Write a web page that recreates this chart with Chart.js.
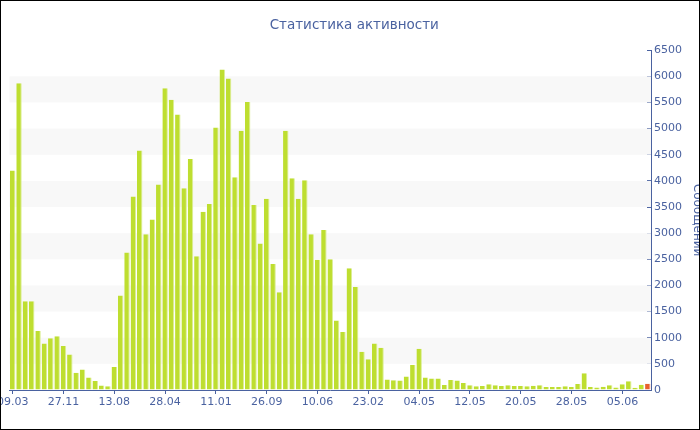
<!DOCTYPE html>
<html>
<head>
<meta charset="utf-8">
<script src="https://cdn.jsdelivr.net/npm/chart.js@4/dist/chart.umd.min.js"></script>
<style>
  html, body { margin: 0; padding: 0; background: #fff; }
  #frame { width: 700px; height: 430px; box-sizing: border-box; border: 1px solid #000; overflow: hidden; }
  canvas { display: block; }
</style>
</head>
<body>
<div id="frame"><canvas id="chart" width="698" height="428"></canvas></div>
<script>
// labels shown on the x axis, one every 8 bars
const tickLabels = ["09.03", "27.11", "13.08", "28.04", "11.01", "26.09", "10.06",
                    "23.02", "04.05", "12.05", "20.05", "28.05", "05.06"];

// messages per period
const messages = [
    4200, 5870, 1700, 1700, 1130, 890, 990, 1030, 840, 680,
    330, 390, 240, 170, 85, 70, 440, 1810, 2630, 3700,
    4580, 2980, 3260, 3930, 5770, 5550, 5270, 3860, 4420, 2560,
    3410, 3560, 5020, 6130, 5960, 4070, 4960, 5510, 3540, 2800,
    3660, 2410, 1870, 4960, 4050, 3660, 4010, 2980, 2490, 3060,
    2500, 1330, 1110, 2330, 1970, 730, 590, 890, 810, 200,
    185, 180, 260, 480, 790, 240, 220, 220, 95, 190,
    180, 135, 90, 70, 75, 110, 90, 75, 90, 75,
    75, 70, 80, 90, 55, 55, 55, 70, 55, 115,
    320, 55, 50, 60, 90, 50, 110, 165, 45, 100,
    120
];

const labels = messages.map((v, i) => i % 8 === 0 ? tickLabels[i / 8] : "");

const blue = "#4a62a0";
const green = "#bede30";
const red = "#e8602c";
const last = messages.length - 1;

// light gray stripes between every other pair of 500-steps
const bands = {
    id: "bands",
    beforeDatasetsDraw(chart) {
        const { ctx, chartArea, scales } = chart;
        const y = scales.y;
        ctx.save();
        ctx.fillStyle = "#f8f8f8";
        for (let v = 500; v < y.max; v += 1000) {
            const top = y.getPixelForValue(v + 500);
            const bottom = y.getPixelForValue(v);
            ctx.fillRect(chartArea.left, top, chartArea.right - chartArea.left, bottom - top);
        }
        ctx.restore();
    }
};

new Chart(document.getElementById("chart"), {
    type: "bar",
    data: {
        labels: labels,
        datasets: [{
            label: "Сообщений",
            data: messages,
            backgroundColor: c => c.dataIndex === last ? red : green,
            borderColor: c => c.dataIndex === last ? "#f2b29a" : "#dcee96",
            borderWidth: { top: 0, left: 0, bottom: 0, right: 1 },
            borderSkipped: false,
            barPercentage: 0.86,
            categoryPercentage: 1
        }]
    },
    options: {
        responsive: false,
        animation: false,
        devicePixelRatio: 1,
        layout: { padding: { left: 8.5, right: 0, top: 0, bottom: 0 } },
        plugins: {
            legend: { display: false },
            tooltip: { enabled: false },
            title: {
                display: true,
                text: "Статистика активности",
                color: blue,
                font: { family: "DejaVu Sans", size: 13.5, weight: "normal" },
                padding: { top: 16, bottom: 17 }
            }
        },
        scales: {
            x: {
                grid: {
                    display: true,
                    drawOnChartArea: false,
                    offset: false,
                    tickLength: 4,
                    tickColor: c => c.index % 8 === 0 ? blue : "transparent"
                },
                border: { color: blue },
                ticks: {
                    autoSkip: false,
                    maxRotation: 0,
                    padding: 2,
                    color: blue,
                    font: { family: "DejaVu Sans", size: 11 }
                },
                afterFit(scale) {
                    scale.paddingLeft = 0;
                    scale.paddingRight = 0;
                    scale.height = 39;
                }
            },
            y: {
                position: "right",
                min: 0,
                max: 6500,
                grid: {
                    drawOnChartArea: false,
                    tickLength: -4,
                    tickColor: blue
                },
                border: { color: blue },
                ticks: {
                    stepSize: 250,
                    padding: 7,
                    color: blue,
                    font: { family: "DejaVu Sans", size: 11 },
                    callback: v => v % 500 === 0 ? v : ""
                },
                title: {
                    display: true,
                    text: "Сообщений",
                    color: blue,
                    font: { family: "DejaVu Sans", size: 12 },
                    padding: { top: -5, bottom: 0 }
                },
                afterFit(scale) {
                    scale.width = 48;
                    scale.paddingTop = 0;
                    scale.paddingBottom = 0;
                }
            }
        }
    },
    plugins: [bands]
});
</script>
</body>
</html>
